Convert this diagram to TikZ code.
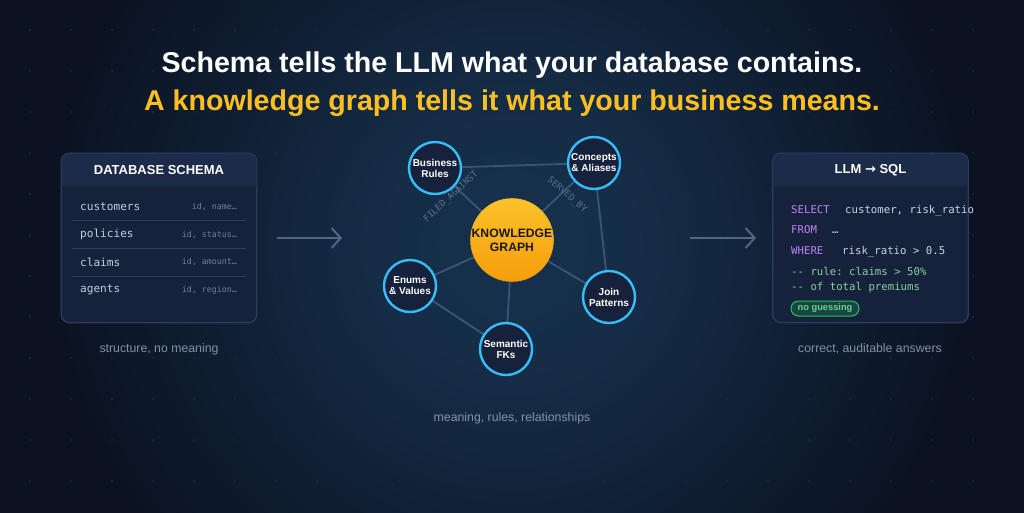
\documentclass[tikz,border=0pt]{standalone}
\usepackage{fontspec}
\setmainfont{Liberation Sans}
\setmonofont{DejaVu Sans Mono}
\newfontfamily\arrowfont{DejaVu Sans}
\usepackage{tikz}
\usetikzlibrary{arrows.meta, positioning, calc, backgrounds}
\pgfdeclarelayer{bglayer}
\pgfsetlayers{bglayer,background,main}
\definecolor{cBg}{HTML}{0B1322}
\definecolor{cGlow}{HTML}{17324E}
\definecolor{cDot}{HTML}{1D293C}
\definecolor{cCardBody}{HTML}{16213B}
\definecolor{cCardHead}{HTML}{1D2B4A}
\definecolor{cCardLine}{HTML}{2C3C5C}
\definecolor{cMuted}{HTML}{8391A8}
\definecolor{cTitle}{HTML}{FBBF24}
\definecolor{cEdge}{HTML}{3C5476}
\definecolor{cCyan}{HTML}{38BDF8}
\definecolor{cKgTop}{HTML}{FCC22A}
\definecolor{cKgBot}{HTML}{F59E0B}
\definecolor{cKw}{HTML}{C084FC}
\definecolor{cCode}{HTML}{CBD5E1}
\definecolor{cComment}{HTML}{86D49A}
\definecolor{cBadge}{HTML}{22C55E}
\pgfdeclareradialshading{kgglow}{\pgfpoint{0bp}{0bp}}{color(0bp)=(cGlow); color(8bp)=(cGlow!80!cBg); color(16bp)=(cGlow!40!cBg); color(25bp)=(cBg); color(50bp)=(cBg)}
\tikzset{
	titleA/.style   ={text=white, font=\fontsize{28.6}{32}\bfseries\selectfont, inner sep=0pt},
	titleB/.style   ={text=cTitle, font=\fontsize{28.6}{32}\bfseries\selectfont, inner sep=0pt},
	caption/.style  ={text=cMuted, font=\fontsize{12.3}{14}\selectfont, inner sep=0pt},
	% cards on both sides
	card/.style     ={rectangle, rounded corners=8pt, draw=cCardLine, fill=cCardBody, line width=0.8pt, minimum width=195pt, minimum height=169pt, inner sep=0pt},
	cardhead/.style ={text=white, font=\fontsize{13}{15}\bfseries\selectfont, inner sep=0pt},
	tblname/.style  ={text=cCode!90!cMuted, font=\fontsize{11.1}{13}\ttfamily\selectfont, inner sep=0pt},
	tblcols/.style  ={text=cMuted!85!cCardBody, font=\fontsize{8.3}{10}\ttfamily\selectfont, inner sep=0pt},
	rowsep/.style   ={draw=cCardLine, line width=0.7pt},
	sqlkw/.style    ={text=cKw, font=\fontsize{10.7}{13}\ttfamily\selectfont, inner sep=0pt},
	sqltxt/.style   ={text=cCode, font=\fontsize{10.7}{13}\ttfamily\selectfont, inner sep=0pt},
	sqlnote/.style  ={text=cComment, font=\fontsize{10.7}{13}\ttfamily\selectfont, inner sep=0pt},
	badge/.style    ={rectangle, rounded corners=7.5pt, draw=cBadge, line width=1pt, fill=cBadge!22!cCardBody, text=cBadge!70!white, font=\fontsize{9.3}{11}\bfseries\selectfont, minimum width=68pt, minimum height=15pt, inner sep=0pt},
	% graph in the middle
	kgnode/.style   ={circle, top color=cKgTop, bottom color=cKgBot, draw=none, minimum size=74pt, inner sep=0pt, align=center, text=black!90, font=\fontsize{12.2}{14}\bfseries\selectfont},
	concept/.style  ={circle, draw=cCyan, line width=2.4pt, fill=cCardBody, minimum size=52pt, inner sep=0pt, align=center, text=white, font=\fontsize{10}{11}\bfseries\selectfont},
	link/.style     ={draw=cEdge, line width=1.8pt},
	edgelbl/.style  ={text=cEdge!55!cMuted, font=\fontsize{9}{10}\ttfamily\selectfont, inner sep=0pt},
	flowarrow/.style={-{Straight Barb[length=9pt, width=20pt, line width=2pt]}, draw=cEdge!70!cMuted, line width=2pt},
}

\begin{document}
\begin{tikzpicture}[x=1pt, y=-1pt]
	\useasboundingbox (0,0) rectangle (1024,512);
	\begin{pgfonlayer}{bglayer}
		\fill[cBg] (-2,-2) rectangle (1026,514);
		\begin{scope}
			\clip (0,0) rectangle (1024,512);
			\shade[shading=kgglow] (512,245) circle (460);
		\end{scope}
		\foreach \gx in {30,71,...,1010} \foreach \gy in {30,71,...,500} \fill[cDot] (\gx,\gy) circle (1.1);
	\end{pgfonlayer}

	\node[titleA, anchor=base] (title1) at (512,72) {Schema tells the LLM what your database contains.};
	\node[titleB, anchor=base] (title2) at (512,110) {A knowledge graph tells it what your business means.};

	% left card
	\node[card] (schema) at (159,238) {};
	\fill[cCardHead] ($(schema.north west)+(0,33)$) [rounded corners=8pt] -- (schema.north west) -- (schema.north east) [sharp corners] -- ($(schema.north east)+(0,33)$) -- cycle;
	\draw[cCardLine, line width=0.8pt, rounded corners=8pt] (schema.north west) rectangle (schema.south east);
	\node[cardhead] (schemaHead) at ($(schema.north)+(0,17)$) {DATABASE SCHEMA};
	\foreach \tbl/\cols [count=\i from 0] in {customers/{id, name…}, policies/{id, status…}, claims/{id, amount…}, agents/{id, region…}} {
		\node[tblname, anchor=west] (tbl\i) at (80,207+27.7*\i) {\tbl};
		\node[tblcols, anchor=east] (col\i) at (237,207+27.7*\i) {\cols};
	}
	\foreach \i in {1,2,3} \draw[rowsep] (72,193+27.7*\i) -- (246,193+27.7*\i);
	\node[caption] (schemaCap) at (159,349) {structure, no meaning};

	\coordinate (arrL1) at ([xshift=20pt]schema.east);
	\coordinate (arrL2) at (342,238);
	\draw[flowarrow] (arrL1) -- (arrL2);

	% knowledge graph
	\node[kgnode] (kg) at (512,240) {KNOWLEDGE\\GRAPH};
	\node[concept] (rules) at (435,168) {Business\\Rules};
	\node[concept] (concepts) at (594,163) {Concepts\\\& Aliases};
	\node[concept] (enums) at (410,286) {Enums\\\& Values};
	\node[concept] (fks) at (506,349) {Semantic\\FKs};
	\node[concept] (joins) at (609,297) {Join\\Patterns};
	\begin{scope}[on background layer]
		\draw[link] (kg)--(rules); \draw[link] (kg)--(concepts); \draw[link] (kg)--(enums);
		\draw[link] (kg)--(fks); \draw[link] (kg)--(joins);
		\draw[link] (rules)--(concepts); \draw[link] (concepts)--(joins); \draw[link] (enums)--(fks);
	\end{scope}
	\node[edgelbl, rotate=43] (lblFiled) at (451,197) {FILED\_AGAINST};
	\node[edgelbl, rotate=-41] (lblServed) at (567,195) {SERVED\_BY};
	\node[caption] (kgCap) at (512,418) {meaning, rules, relationships};

	\coordinate (arrR1) at (690,238);
	\coordinate (arrR2) at (756,238);
	\draw[flowarrow] (arrR1) -- (arrR2);

	% right card
	\node[card] (sqlcard) at (870.5,238) {};
	\fill[cCardHead] ($(sqlcard.north west)+(0,33)$) [rounded corners=8pt] -- (sqlcard.north west) -- (sqlcard.north east) [sharp corners] -- ($(sqlcard.north east)+(0,33)$) -- cycle;
	\draw[cCardLine, line width=0.8pt, rounded corners=8pt] (sqlcard.north west) rectangle (sqlcard.south east);
	\node[cardhead] (sqlHead) at ($(sqlcard.north)+(0,17)$) {LLM {\arrowfont →} SQL};
	\node[sqlkw, anchor=base west] (kwSelect) at (791,213) {SELECT};
	\node[sqltxt, anchor=base west] (txSelect) at (845,213) {customer, risk\_ratio};
	\node[sqlkw, anchor=base west] (kwFrom) at (791,233) {FROM};
	\node[sqltxt, anchor=base west] (txFrom) at (832,233) {…};
	\node[sqlkw, anchor=base west] (kwWhere) at (791,254) {WHERE};
	\node[sqltxt, anchor=base west] (txWhere) at (842,254) {risk\_ratio > 0.5};
	\node[sqlnote, anchor=base west] (note1) at (791,275) {-{}- rule: claims > 50\%};
	\node[sqlnote, anchor=base west] (note2) at (791,290) {-{}- of total premiums};
	\node[badge] (noGuess) at (825,308.5) {no guessing};
	\node[caption] (sqlCap) at (870,349) {correct, auditable answers};
\end{tikzpicture}
\end{document}
